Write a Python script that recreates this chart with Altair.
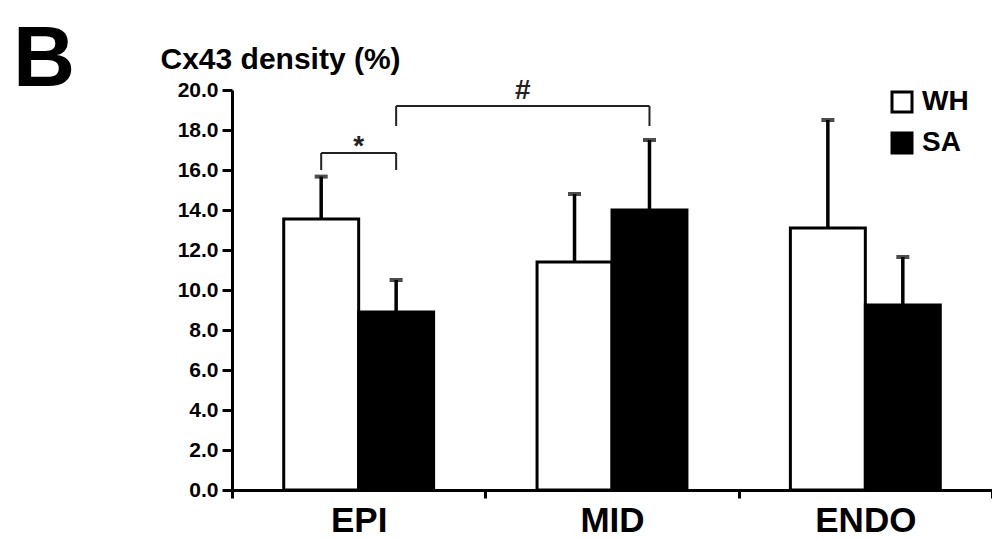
import altair as alt
import pandas as pd

regions = ["EPI", "MID", "ENDO"]
groups = ["WH", "SA"]
wh_mean = [13.55, 11.4, 13.1]
wh_upper = [15.67, 14.8, 18.5]
sa_mean = [8.9, 14.0, 9.25]
sa_upper = [10.5, 17.5, 11.65]
y_ticks = [0, 2, 4, 6, 8, 10, 12, 14, 16, 18, 20]

# significance brackets: (region_a, group_a, region_b, group_b, bar_level, leg_bottom, label, label_y)
brackets = [
    ("EPI", "WH", "EPI", "SA", 16.85, 16.0, "*", 17.15),
    ("EPI", "SA", "MID", "SA", 19.2, 18.2, "#", 19.95),
]

P_OUT = 0.69  # outer padding of the within-group band scale
FONT = "Liberation Sans"

rows = []
for i, r in enumerate(regions):
    rows.append({"region": r, "group": "WH", "mean": wh_mean[i], "upper": wh_upper[i]})
    rows.append({"region": r, "group": "SA", "mean": sa_mean[i], "upper": sa_upper[i]})
df = pd.DataFrame(rows)


def center(region, group):
    return regions.index(region) + (P_OUT + 0.5 + groups.index(group)) / (2 + 2 * P_OUT)


seg_rows, txt_rows = [], []
for ra, ga, rb, gb, lvl, bot, lab, ly in brackets:
    xa, xb = center(ra, ga), center(rb, gb)
    seg_rows.append({"x1": xa, "x2": xb, "y1": lvl, "y2": lvl})
    seg_rows.append({"x1": xa, "x2": xa, "y1": bot, "y2": lvl})
    seg_rows.append({"x1": xb, "x2": xb, "y1": bot, "y2": lvl})
    txt_rows.append({"xm": (xa + xb) / 2, "yt": ly, "label": lab})
seg_df = pd.DataFrame(seg_rows)
txt_df = pd.DataFrame(txt_rows)

x_axis = alt.Axis(labelFontSize=35, labelFontWeight="bold", labelFont=FONT, labelColor="black",
                  labelAngle=0, tickBand="extent", tickSize=8, tickWidth=3, tickColor="black",
                  domainWidth=3, domainColor="black", labelPadding=5, grid=False)
x_scale = alt.Scale(paddingInner=0, paddingOuter=0)
xo_enc = alt.XOffset("group:N", sort=groups, scale=alt.Scale(paddingInner=0, paddingOuter=P_OUT))
y_scale = alt.Scale(domain=[0, 20], nice=False, zero=True)
y_axis = alt.Axis(values=y_ticks, format=".1f", labelFontSize=21, labelFontWeight="bold",
                  labelFont=FONT, labelColor="black", tickSize=10, tickWidth=3, tickColor="black",
                  domainWidth=3, domainColor="black", grid=False, labelPadding=4, labelOverlap=False,
                  title="Cx43 density (%)", titleAngle=0, titleAlign="left", titleBaseline="alphabetic",
                  titleX=-72, titleY=-22, titleFontSize=30, titleFontWeight="bold", titleFont=FONT,
                  titleColor="black")


def X():
    return alt.X("region:N", sort=regions, title=None, scale=x_scale, axis=x_axis)


def Y(field):
    return alt.Y(field, scale=y_scale, axis=y_axis, title="Cx43 density (%)")


base = alt.Chart(df)
bars = base.mark_bar(stroke="black", strokeWidth=3).encode(
    x=X(), xOffset=xo_enc, y=Y("mean:Q"),
    fill=alt.Fill("group:N", sort=groups, scale=alt.Scale(domain=groups, range=["white", "black"]),
                  legend=alt.Legend(title=None, orient="none", legendX=656, legendY=-2,
                                    symbolType="square", symbolSize=400, symbolStrokeColor="black",
                                    symbolStrokeWidth=3, labelFontSize=28, labelFontWeight="bold",
                                    labelFont=FONT, labelColor="black", rowPadding=9, labelOffset=6)),
)
errs = base.mark_rule(color="black", strokeWidth=3.5).encode(
    x=X(), xOffset=xo_enc, y=Y("mean:Q"), y2="upper:Q"
)
caps = base.mark_tick(color="black", thickness=4, size=13).encode(
    x=X(), xOffset=xo_enc, y=Y("upper:Q")
)
main = alt.layer(bars, errs, caps)

xq = alt.Scale(domain=[0, 3], nice=False, zero=False)
segs = alt.Chart(seg_df).mark_rule(color="#222222", strokeWidth=2).encode(
    x=alt.X("x1:Q", scale=xq, axis=None), x2="x2:Q", y=Y("y1:Q"), y2="y2:Q"
)
texts = alt.Chart(txt_df).mark_text(fontSize=28, fontWeight="bold", font=FONT, color="#222222",
                                    baseline="middle").encode(
    x=alt.X("xm:Q", scale=xq, axis=None), y=Y("yt:Q"), text="label:N"
)
ann = alt.layer(segs, texts)

chart = alt.layer(main, ann).resolve_scale(x="independent").properties(
    width=760, height=400,
    autosize=alt.AutoSizeParams(type="none"),
    padding={"left": 224, "top": 82, "right": 0, "bottom": 48},
    title=alt.TitleParams("B", anchor="start", frame="group", fontSize=86, fontWeight="bold",
                          font=FONT, color="black", dx=-219, dy=60, offset=0),
).configure_view(stroke=None)

chart.save("out.html", embed_options={"renderer": "svg", "actions": False})
